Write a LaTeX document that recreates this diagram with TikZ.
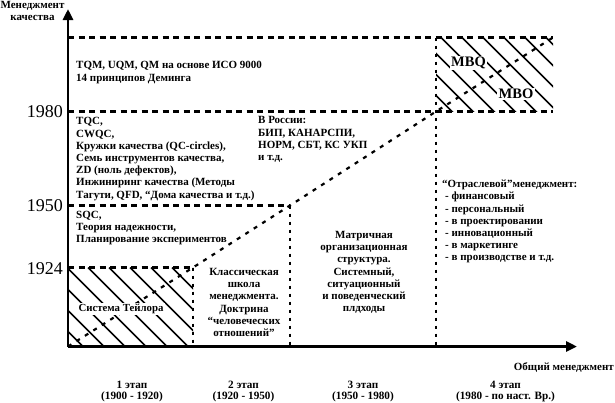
\documentclass[tikz,border=0pt]{standalone}
\usepackage{fontspec}
\setmainfont{Liberation Serif}
\usetikzlibrary{arrows.meta}
\begin{document}
\begin{tikzpicture}[x=1pt,y=-1pt,
  axis/.style={line width=2.8pt,-{Triangle[length=11pt,width=10pt]}},
  hdash/.style={line width=2.2pt,dash pattern=on 6pt off 4.5pt},
  vdot/.style={line width=2.2pt,dash pattern=on 3pt off 5pt},
  diag/.style={line width=2.2pt,dash pattern=on 4pt off 6pt},
  hatch/.style={line width=1.6pt},
  txt/.style={font=\bfseries\fontsize{11}{12.2}\selectfont,inner sep=0pt},
  stage/.style={font=\bfseries\fontsize{11.2}{11}\selectfont,inner sep=0pt,align=center,anchor=north},
  year/.style={font=\fontsize{18}{18}\selectfont,anchor=east,inner sep=0pt},
  onhatch/.style={font=\bfseries\fontsize{#1}{#1}\selectfont,fill=white,inner sep=1.5pt},
]
\useasboundingbox (0,0) rectangle (615,402);

% coordinates
\coordinate (O) at (68,346.5);
\coordinate (Ytop) at (68,9);
\coordinate (Xend) at (577,346.5);
\coordinate (T1) at (68,37.5);
\coordinate (T2) at (553,37.5);
\coordinate (A1) at (68,111.5);
\coordinate (A2) at (553,111.5);
\coordinate (B1) at (68,205.5);
\coordinate (B2) at (290,205.5);
\coordinate (C1) at (68,267.5);
\coordinate (C2) at (193,267.5);
\coordinate (V1b) at (193,346.5);
\coordinate (V2b) at (290,346.5);
\coordinate (V3t) at (436,37.5);
\coordinate (V3m) at (436,111.5);
\coordinate (V3b) at (436,346.5);

% hatching: Taylor box
\begin{scope}
  \clip (C1) rectangle (V1b);
  \foreach \c in {-85,-64,...,200} \draw[hatch] (68+\c,267.5) -- ++(100,100);
\end{scope}
% hatching: MBQ/MBO box
\begin{scope}
  \clip (V3t) rectangle (A2);
  \foreach \c in {-80,-59,...,140} \draw[hatch] (437+\c,37.5) -- ++(100,100);
\end{scope}

% dashed horizontal lines
\draw[hdash] (T1) -- (T2);
\draw[hdash] (A1) -- (A2);
\draw[hdash] (B1) -- (B2);
\draw[hdash] (C1) -- (C2);
% dotted vertical lines
\draw[vdot] (C2) -- (V1b);
\draw[vdot] (B2) -- (V2b);
\draw[vdot] (V3t) -- (V3b);
% diagonal
\draw[diag] (O) -- (C2) -- (B2) -- (V3m) -- (T2);

% axes
\draw[axis] (O) -- (Ytop);
\draw[axis] (O) -- (Xend);

% axis labels
\node[font=\bfseries\fontsize{11}{11.5}\selectfont,align=center,anchor=north,inner sep=0pt] (ylab) at (32.5,1.5) {Менеджмент\\качества};
\node[font=\bfseries\fontsize{11}{11}\selectfont,anchor=base east,inner sep=0pt] (xlab) at (614,370) {Общий менеджмент};

% years
\node[year] (y1980) at (63,112) {1980};
\node[year] (y1950) at (63,205.5) {1950};
\node[year] (y1924) at (63,269) {1924};

% text blocks
\node[txt,anchor=north west,align=left] (tqm) at (76,61) {TQM, UQM, QM на основе ИСО 9000\\[0.6pt]14 принципов Деминга};
\node[txt,anchor=north west,align=left] (tqc) at (76,117.5) {TQC,\\CWQC,\\Кружки качества (QC-circles),\\Семь инструментов качества,\\ZD (ноль дефектов),\\Инжиниринг качества (Методы\\Тагути, QFD, “Дома качества и т.д.)};
\node[txt,anchor=north west,align=left] (russia) at (258,116.5) {В России:\\БИП, КАНАРСПИ,\\НОРМ, СБТ, КС УКП\\и т.д.};
\node[txt,anchor=north west,align=left] (sqc) at (76,211) {SQC,\\Теория надежности,\\Планирование экспериментов};
\node[txt,anchor=north,align=center] (classic) at (244,268) {Классическая\\школа\\менеджмента.\\Доктрина\\“человеческих\\отношений”};
\node[txt,anchor=north,align=center] (matrix) at (364,231) {Матричная\\организационная\\структура.\\Системный,\\ситуационный\\и поведенческий\\плдходы};
\node[txt,anchor=north west,align=left] (branch) at (442,180) {“Отраслевой”менеджмент:\\\hspace{3pt}- финансовый\\\hspace{3pt}- персональный\\\hspace{3pt}- в проектировании\\\hspace{3pt}- инновационный\\\hspace{3pt}- в маркетинге\\\hspace{3pt}- в производстве и т.д.};

% labels on hatching
\node[onhatch=10.8] (taylor) at (121,309) {Система Тейлора};
\node[onhatch=14.5] (mbq) at (468.5,63) {MBQ};
\node[onhatch=14.5] (mbo) at (516,94) {MBO};

% stages
\node[stage] (s1) at (132,380.5) {1 этап\\(1900 - 1920)};
\node[stage] (s2) at (243.5,380.5) {2 этап\\(1920 - 1950)};
\node[stage] (s3) at (363,380.5) {3 этап\\(1950 - 1980)};
\node[stage] (s4) at (505.5,380.5) {4 этап\\(1980 - по наст. Вр.)};
\end{tikzpicture}
\end{document}
